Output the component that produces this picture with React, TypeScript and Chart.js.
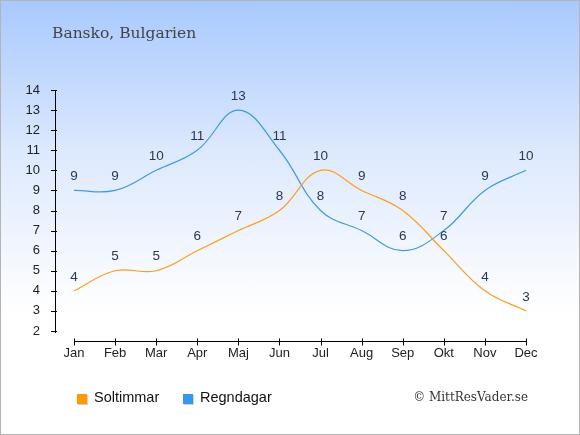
import React, { useEffect, useRef } from "react";
import { Chart, registerables } from "chart.js";

Chart.register(...registerables);

const months = ["Jan", "Feb", "Mar", "Apr", "Maj", "Jun", "Jul", "Aug", "Sep", "Okt", "Nov", "Dec"];
const soltimmar = [4, 5, 5, 6, 7, 8, 10, 9, 8, 6, 4, 3];
const regndagar = [9, 9, 10, 11, 13, 11, 8, 7, 6, 7, 9, 10];
const yMin = 2;
const yMax = 14;
const titleText = "Bansko, Bulgarien";
const seriesNames = ["Soltimmar", "Regndagar"];
const copyrightText = "© MittResVader.se";

const ORANGE = "#ff9e1a";
const BLUE = "#3f9be8";
const ORANGE_BOX = "#ff9900";
const BLUE_BOX = "#3399ee";

export default function App() {
  const ref = useRef<HTMLCanvasElement | null>(null);

  useEffect(() => {
    document.body.style.margin = "0";
    const canvas = ref.current;
    if (!canvas) return;

    const overlay = {
      id: "overlay",
      afterDatasetsDraw(chart: any) {
        const ctx = chart.ctx;
        const xs = chart.scales.x;
        const ys = chart.scales.y;
        const area = chart.chartArea;
        ctx.save();
        // y axis line + ticks
        const axX = area.left - 19;
        ctx.strokeStyle = "#000";
        ctx.lineWidth = 1;
        ctx.beginPath();
        ctx.moveTo(axX + 0.5, ys.getPixelForValue(yMax));
        ctx.lineTo(axX + 0.5, ys.getPixelForValue(yMin) + 2);
        for (let v = yMin; v <= yMax; v++) {
          const py = Math.round(ys.getPixelForValue(v)) + 0.5;
          ctx.moveTo(axX - 4, py);
          ctx.lineTo(axX + 2, py);
        }
        // x axis line + ticks
        const axY = Math.round(area.bottom + 10) + 0.5;
        ctx.moveTo(xs.getPixelForValue(0), axY);
        ctx.lineTo(xs.getPixelForValue(months.length - 1) + 1, axY);
        for (let i = 0; i < months.length; i++) {
          const px = Math.round(xs.getPixelForValue(i)) + 0.5;
          ctx.moveTo(px, axY - 3);
          ctx.lineTo(px, axY + 4);
        }
        ctx.stroke();

        // data labels
        ctx.font = "13.5px 'Liberation Sans', Arial, sans-serif";
        ctx.fillStyle = "#2b3855";
        ctx.textAlign = "center";
        ctx.textBaseline = "middle";
        chart.data.datasets.forEach((ds: any) => {
          ds.data.forEach((v: number, i: number) => {
            ctx.fillText(String(v), xs.getPixelForValue(i), ys.getPixelForValue(v) - 14);
          });
        });

        // title
        ctx.font = "15.5px 'DejaVu Serif', serif";
        ctx.fillStyle = "#444";
        ctx.textAlign = "left";
        ctx.textBaseline = "alphabetic";
        ctx.fillText(titleText, 51, 37);

        // legend
        const legend = [
          { name: seriesNames[0], color: ORANGE_BOX, x: 76 },
          { name: seriesNames[1], color: BLUE_BOX, x: 182 },
        ];
        ctx.font = "14.5px 'Liberation Sans', Arial, sans-serif";
        ctx.textBaseline = "middle";
        legend.forEach((l) => {
          ctx.fillStyle = "rgba(0,0,0,0.18)";
          ctx.fillRect(l.x + 1, 394, 10, 10);
          ctx.fillStyle = l.color;
          ctx.fillRect(l.x, 393, 10, 10);
          ctx.fillStyle = "#111";
          ctx.fillText(l.name, l.x + 17, 397);
        });

        // copyright
        ctx.font = "12px 'DejaVu Serif', serif";
        ctx.fillStyle = "#333";
        ctx.textAlign = "right";
        ctx.fillText(copyrightText, 527, 397);
        ctx.restore();
      },
    };

    const chart = new Chart(canvas, {
      type: "line",
      data: {
        labels: months,
        datasets: [
          {
            label: seriesNames[0],
            data: soltimmar,
            borderColor: ORANGE,
            backgroundColor: ORANGE,
            borderWidth: 1.2,
            pointRadius: 0,
            tension: 0.4,
            fill: false,
          },
          {
            label: seriesNames[1],
            data: regndagar,
            borderColor: BLUE,
            backgroundColor: BLUE,
            borderWidth: 1.2,
            pointRadius: 0,
            tension: 0.4,
            fill: false,
          },
        ],
      },
      options: {
        animation: false,
        responsive: false,
        maintainAspectRatio: false,
        devicePixelRatio: 1,
        layout: { padding: { left: 0, right: 53, top: 89, bottom: 0 } },
        plugins: {
          legend: { display: false },
          title: { display: false },
          tooltip: { enabled: false },
        },
        scales: {
          x: {
            offset: false,
            grid: { display: false },
            border: { display: false },
            ticks: {
              color: "#222",
              font: { size: 13, family: "'Liberation Sans', Arial, sans-serif" },
              padding: 7,
              maxRotation: 0,
              autoSkip: false,
            },
            afterFit(scale: any) {
              scale.height = 103;
            },
          },
          y: {
            min: yMin,
            max: yMax,
            grid: { display: false },
            border: { display: false },
            ticks: {
              stepSize: 1,
              color: "#222",
              font: { size: 13, family: "'Liberation Sans', Arial, sans-serif" },
              padding: 26,
            },
            afterFit(scale: any) {
              scale.width = 73;
            },
          },
        },
      },
      plugins: [overlay],
    });
    return () => chart.destroy();
  }, []);

  return (
    <div
      style={{
        position: "absolute",
        left: 0,
        top: 0,
        width: 580,
        height: 435,
        boxSizing: "border-box",
        border: "1px solid #b4b4b4",
        background: "linear-gradient(180deg, #a8c9ff 0%, #dde9fd 35%, #ffffff 72%, #ffffff 100%)",
      }}
    >
      <canvas ref={ref} width={578} height={433} style={{ display: "block" }} />
    </div>
  );
}
